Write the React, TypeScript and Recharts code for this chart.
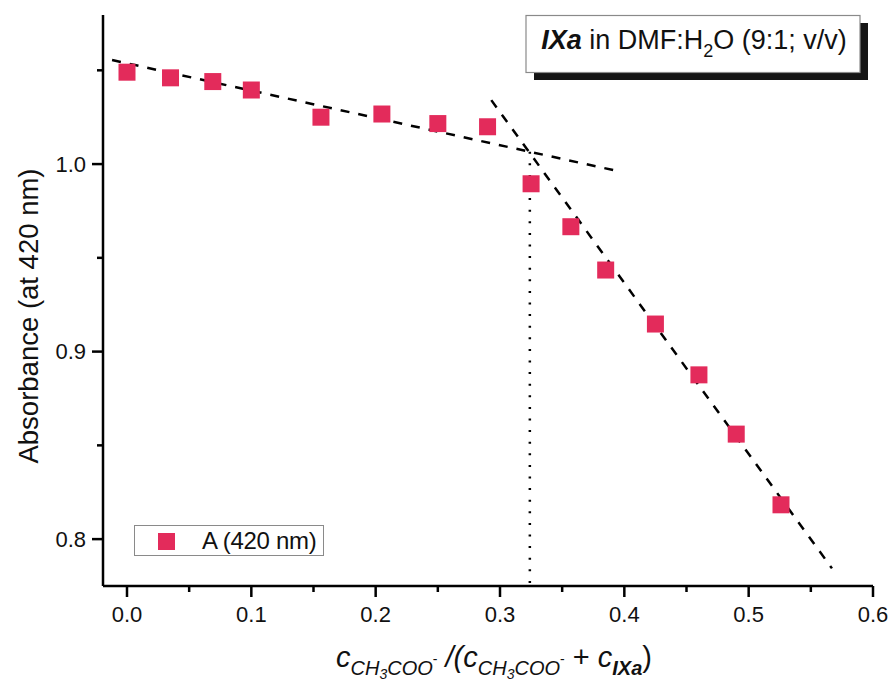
import {
  ComposedChart,
  Scatter,
  XAxis,
  YAxis,
  ReferenceLine,
  Legend,
  Customized,
} from "recharts";

// mole fraction of acetate vs absorbance at 420 nm
const xValues = [0, 0.035, 0.069, 0.1, 0.156, 0.205, 0.25, 0.29, 0.325, 0.357, 0.385, 0.425, 0.46, 0.49, 0.526];
const absorbance = [1.049, 1.046, 1.044, 1.0395, 1.025, 1.0267, 1.0216, 1.0199, 0.9895, 0.9666, 0.9435, 0.9147, 0.8876, 0.856, 0.8183];

// two linear fits and the crossing point
const fit1X = [-0.012, 0.391];
const fit1Y = [1.0555, 0.9968];
const fit2X = [0.293, 0.567];
const fit2Y = [1.0341, 0.7844];
const crossX = 0.324;
const crossY = [1.0066, 0.775];

const xTicks = [0, 0.05, 0.1, 0.15, 0.2, 0.25, 0.3, 0.35, 0.4, 0.45, 0.5, 0.55, 0.6];
const yTicks = [0.8, 0.85, 0.9, 0.95, 1.0, 1.05];

const W = 891;
const H = 686;
const PLOT_LEFT = 103;
const PLOT_RIGHT = 873;
const PLOT_TOP = 15;
const PLOT_BOTTOM = 586;
const FONT = '"Liberation Sans", Arial, sans-serif';
const RED = "#e32b5b";

const data = xValues.map((x, i) => ({ x, a: absorbance[i] }));

const isMajor = (v: number) => Math.abs(v * 10 - Math.round(v * 10)) < 1e-6;

function YTick(props: any) {
  const { y, payload } = props;
  const v = payload.value as number;
  const major = isMajor(v);
  return (
    <g>
      <line x1={PLOT_LEFT} x2={PLOT_LEFT - (major ? 11 : 6)} y1={y} y2={y} stroke="#000" strokeWidth={2.5} />
      {major && (
        <text x={PLOT_LEFT - 17} y={y} textAnchor="end" dominantBaseline="central" fontSize={22} fontFamily={FONT} fill="#111">
          {v.toFixed(1)}
        </text>
      )}
    </g>
  );
}

function XTick(props: any) {
  const { x, payload } = props;
  const v = payload.value as number;
  const major = isMajor(v);
  return (
    <g>
      <line x1={x} x2={x} y1={PLOT_BOTTOM} y2={PLOT_BOTTOM + (major ? 11 : 6)} stroke="#000" strokeWidth={2.5} />
      {major && (
        <text x={x} y={PLOT_BOTTOM + 28} textAnchor="middle" dominantBaseline="central" fontSize={22} fontFamily={FONT} fill="#111">
          {v.toFixed(1)}
        </text>
      )}
    </g>
  );
}

function Square(props: any) {
  const { cx, cy } = props;
  return <rect x={cx - 8.5} y={cy - 8.5} width={17} height={17} fill={RED} />;
}

function YLabel() {
  const cx = 38;
  const cy = 316;
  return (
    <text
      x={cx}
      y={cy}
      transform={`rotate(-90 ${cx} ${cy})`}
      textAnchor="middle"
      fontSize={27.5}
      fontFamily={FONT}
      fill="#111"
    >
      Absorbance (at 420 nm)
    </text>
  );
}

function XLabel() {
  const sub = 20;
  const subsub = 14;
  return (
    <text x={494} y={667} textAnchor="middle" fontSize={29} fontFamily={FONT} fill="#111">
      <tspan fontStyle="italic">c</tspan>
      <tspan fontStyle="italic" fontSize={sub} dy={8}>CH</tspan>
      <tspan fontStyle="italic" fontSize={subsub} dy={4}>3</tspan>
      <tspan fontStyle="italic" fontSize={sub} dy={-4}>COO</tspan>
      <tspan fontSize={subsub} dy={-11}>-</tspan>
      <tspan fontStyle="italic" dy={3}> /(c</tspan>
      <tspan fontStyle="italic" fontSize={sub} dy={8}>CH</tspan>
      <tspan fontStyle="italic" fontSize={subsub} dy={4}>3</tspan>
      <tspan fontStyle="italic" fontSize={sub} dy={-4}>COO</tspan>
      <tspan fontSize={subsub} dy={-11}>-</tspan>
      <tspan dy={3}> + </tspan>
      <tspan fontStyle="italic">c</tspan>
      <tspan fontStyle="italic" fontWeight="bold" fontSize={sub} dy={8}>IXa</tspan>
      <tspan dy={-8}>)</tspan>
    </text>
  );
}

function TitleBox() {
  return (
    <g>
      <rect x={534} y={23} width={334} height={57} fill="#151515" />
      <rect x={526} y={15.5} width={334} height={57} fill="#fff" stroke="#8a8a8a" strokeWidth={1.2} />
      <text x={694} y={49} textAnchor="middle" fontSize={27} fontFamily={FONT} fill="#111">
        <tspan fontWeight="bold" fontStyle="italic">IXa</tspan>
        <tspan> in DMF:H</tspan>
        <tspan fontSize={18} dy={8}>2</tspan>
        <tspan dy={-8}>O (9:1; v/v)</tspan>
      </text>
    </g>
  );
}

function LegendBox() {
  return (
    <div
      style={{
        width: 190,
        height: 31,
        border: "1px solid #8a8a8a",
        background: "#fff",
        position: "relative",
        fontFamily: FONT,
        boxSizing: "border-box",
      }}
    >
      <div style={{ position: "absolute", left: 23, top: 7, width: 17, height: 17, background: RED }} />
      <div style={{ position: "absolute", left: 67, top: 0, fontSize: 24, lineHeight: "30px", color: "#111", letterSpacing: -0.3 }}>
        A (420 nm)
      </div>
    </div>
  );
}

export default function App() {
  return (
    <div style={{ position: "absolute", left: 0, top: 0, width: W, height: H, background: "#fff" }}>
      <ComposedChart
        width={W}
        height={H}
        data={data}
        margin={{ top: PLOT_TOP, right: W - PLOT_RIGHT, bottom: 0, left: 0 }}
      >
        <XAxis
          dataKey="x"
          type="number"
          domain={[-0.0193, 0.6]}
          ticks={xTicks}
          interval={0}
          height={H - PLOT_BOTTOM}
          axisLine={{ stroke: "#000", strokeWidth: 2.5 }}
          tickLine={false}
          tick={<XTick />}
          allowDataOverflow
        />
        <YAxis
          type="number"
          domain={[0.775, 1.0795]}
          ticks={yTicks}
          interval={0}
          width={PLOT_LEFT}
          axisLine={{ stroke: "#000", strokeWidth: 2.5 }}
          tickLine={false}
          tick={<YTick />}
          allowDataOverflow
        />
        <Scatter dataKey="a" name="A (420 nm)" shape={<Square />} isAnimationActive={false} />
        <ReferenceLine
          segment={[{ x: fit1X[0], y: fit1Y[0] }, { x: fit1X[1], y: fit1Y[1] }]}
          stroke="#000"
          strokeWidth={2.5}
          strokeDasharray="9 9"
        />
        <ReferenceLine
          segment={[{ x: fit2X[0], y: fit2Y[0] }, { x: fit2X[1], y: fit2Y[1] }]}
          stroke="#000"
          strokeWidth={2.5}
          strokeDasharray="9 9"
        />
        <ReferenceLine
          segment={[{ x: crossX, y: crossY[0] }, { x: crossX, y: crossY[1] }]}
          stroke="#000"
          strokeWidth={2.5}
          strokeDasharray="2 9.6"
        />
        <Legend
          layout="vertical"
          align="center"
          verticalAlign="middle"
          content={<LegendBox />}
          wrapperStyle={{ position: "absolute", left: 134, top: 525, width: 190, height: 31, bottom: "auto", right: "auto" }}
        />
        <Customized component={<YLabel />} />
        <Customized component={<XLabel />} />
        <Customized component={<TitleBox />} />
      </ComposedChart>
    </div>
  );
}
